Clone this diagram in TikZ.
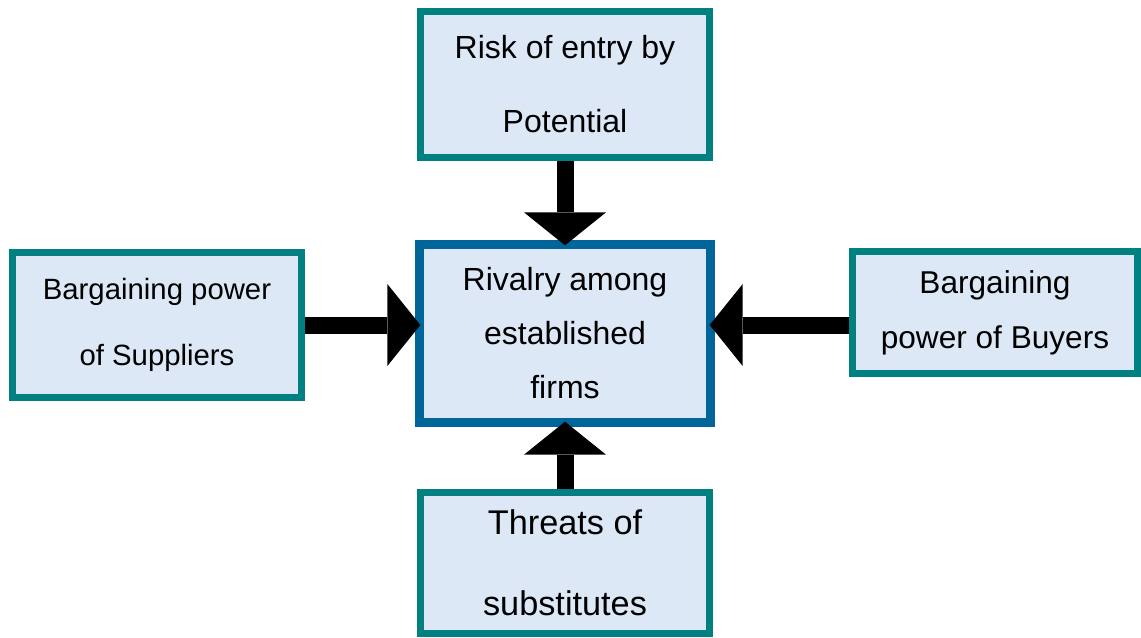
\documentclass[tikz,border=0pt]{standalone}
\usepackage{fontspec}
\setmainfont{Liberation Sans}
\usetikzlibrary{positioning,arrows.meta}
\definecolor{boxteal}{HTML}{008080}
\definecolor{boxblue}{HTML}{006699}
\definecolor{boxfill}{HTML}{DCE8F6}

\begin{document}
\begin{tikzpicture}[x=0.75pt,y=-0.75pt,
    force/.style={draw=boxteal,line width=5.25pt,fill=boxfill,align=center,inner sep=0pt},
    push/.style={line width=12.75pt,-{Triangle[width=61.5pt,length=24.75pt,line width=0pt]},shorten >=-4pt}]
  \useasboundingbox (0,0) rectangle (1141,637);
  % the five forces
  \node[force,draw=boxblue,line width=6.75pt,minimum width=218.25pt,minimum height=133.5pt,
        font=\fontsize{24}{40.5}\selectfont] (rivalry) at (565,333.5)
    {Rivalry among\\established\\firms};
  \node[force,minimum width=216.75pt,minimum height=109.5pt,
        font=\fontsize{24}{55.5}\selectfont] (entry) at (565,84.5)
    {Risk of entry by\\Potential};
  \node[force,minimum width=216.75pt,minimum height=108.75pt,
        font=\fontsize{22}{49.5}\selectfont] (suppliers) at (157,325)
    {Bargaining power\\of Suppliers};
  \node[force,minimum width=213.75pt,minimum height=91.5pt,
        font=\fontsize{23.7}{41}\selectfont] (buyers) at (995,312.5)
    {Bargaining\\power of Buyers};
  \node[force,minimum width=216.75pt,minimum height=105.75pt,
        font=\fontsize{25.7}{61}\selectfont] (substitutes) at (565,563)
    {Threats of\\substitutes};
  % arrows into the centre
  \draw[push] (entry) -- (rivalry);
  \draw[push] (substitutes) -- (rivalry);
  \draw[push] (suppliers.east) -- (suppliers.east -| rivalry.west);
  \draw[push] (buyers.west |- suppliers.east) -- (suppliers.east -| rivalry.east);
\end{tikzpicture}
\end{document}
